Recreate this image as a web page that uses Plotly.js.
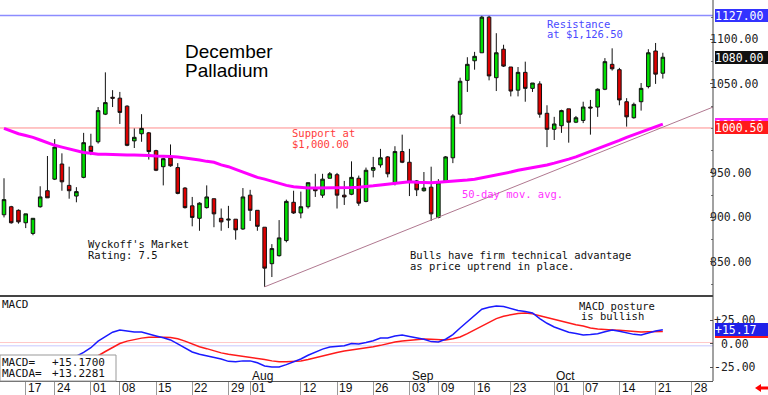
<!DOCTYPE html>
<html><head><meta charset="utf-8">
<script src="https://cdn.plot.ly/plotly-3.0.1.min.js"></script>
<style>html,body{margin:0;padding:0;background:#fff;}#chart{width:768px;height:395px;}</style>
</head><body><div id="chart"></div>
<script>
// ---- data (daily candles, Dec palladium, mid-June to Oct 22) ----
const openP = [903,912,908,894,882,912,930,943,960,936,
  924,945,980,985,1016,1035,1034,1025,986,994,
  995,975,957,967,956,933,913,899,911,921,
  899,897,898,887,925,908,889,848,857,874,
  917,905,912,932,925,944,948,925,926,944,
  918,953,959,968,939,974,962,941,930,934,
  900,940,967,1016,1054,1076,1085,1125,1057,1089,
  1069,1043,1063,1045,1050,1017,999,1003,1022,1007,
  1009,1024,1024,1044,1072,1066,1030,1012,1030,1047,
  1087,1062];
const highP = [944,913,909,904,899,935,969,988,972,957,
  934,995,994,1024,1063,1043,1041,1026,1000,1016,
  996,976,967,982,961,934,923,917,936,921,
  910,913,898,933,931,908,889,870,897,920,
  930,929,939,949,949,951,950,941,963,947,
  956,968,977,969,980,993,977,942,951,957,
  943,969,1016,1057,1080,1086,1126.5,1126.5,1107,1094,
  1069,1069,1075,1051,1053,1026,1013,1021,1022,1014,
  1030,1032,1045,1079,1090,1068,1034,1029,1051,1089,
  1096,1085];
const lowP = [900,893,893,888,880,911,922,942,930,921,
  917,944,970,983,1015,1024,1005,980,978,985,
  965,952,936,957,926,910,890,885,910,889,
  885,888,875,886,896,885,822,833,856,872,
  904,899,910,923,922,944,910,914,925,913,
  917,945,956,945,936,961,924,924,929,896,
  899,939,961,1005,1041,1066,1085,1054,1042,1069,
  1036,1036,1030,1041,1012,979,987,995,984,1006,
  1006,993,1013,1043,1065,1026,1002,1011,1020,1045,
  1050,1056];
const closeP = [920,894,895,904,899,923,922,979,940,930,
  929,984,974,1020,1029,1034,1018,981,990,1000,
  974,953,966,958,927,911,900,916,923,904,
  895,898,886,923,908,890,843,865,877,918,
  905,912,939,930,943,949,925,923,945,916,
  953,956,967,949,974,962,940,931,933,904,
  939,968,1014,1053,1072,1081,1125,1059,1085,1070,
  1042,1063,1045,1051,1016,999,1005,1020,1007,1012,
  1024,1023,1044,1075,1067,1032,1013,1027,1045,1085,
  1061,1080];
const ma50 = [1000,997,994,992,990,987,984,981,979,977,
  975,973,972,971,971,970.5,970,970,970,970,
  969.5,969,969,968.5,968,967,966,964.5,963,962,
  959,957,954,951,948,945,943,940.5,938,936,
  934.5,933.5,933,933,933,933,933,933,933.5,934,
  934.5,935.5,936.5,937.5,938.5,939.5,940,939.5,939,939,
  939.5,940,940.5,941,942,943,944.5,946,948,949.5,
  951,953,954.5,955.5,957,959,961,963,965.5,968,
  971,974,977.5,980.5,983.5,986.5,990,993,996,999,
  1002,1004.8];
const macd = [-28,-27,-26,-26,-26,-24,-22,-18,-16,-15,
  -13,-9,-4,3,8,12.5,14.9,13.5,12.8,12.8,
  11,8.5,6.5,4.3,0,-4.5,-8.5,-11,-12.5,-13.8,
  -16,-18.5,-19,-18,-18,-20,-23.4,-24.5,-24.5,-22,
  -19,-16,-12,-8.5,-5.5,-3.2,-2.5,-2,0.5,0,
  1.5,3.5,6.4,6.4,8.5,9.6,8,6.5,5,2.5,
  2,5,10,17,23.4,30,37,39,40.4,39.8,
  37.5,35.5,34.5,33,27,22,18,15,12.5,11,
  9.6,10,10.8,13,14.9,13.5,11.7,10.2,9.6,12,
  13.8,15.17];
const macdA = [-22,-22.5,-23,-23.5,-24,-24,-23.5,-23,-22,-20.5,
  -18.5,-16.5,-14.5,-12.5,-8,-4,0.5,3,5,6.2,
  7,7.4,7.2,6.8,5.5,3,0,-3,-5,-7.5,
  -9.5,-11,-12,-13,-13.8,-15,-16.5,-18,-19,-19,
  -18.8,-18,-16.5,-14.5,-12.5,-10.5,-9,-7.5,-6.5,-5.5,
  -4.3,-3,-1.5,0.5,2,3.2,4,4.8,5.3,5,
  4.5,4.3,5.5,7.4,11,15,19.5,23.5,27,29.5,
  31,32.5,33,32,30,28,26,24,22.5,20.5,
  19,17,16,15.2,14.9,14.5,13.8,13.2,12.8,12.9,
  13,13.2281];
const tickIdx  = [3,7,12,16,21,26,31,34,41,46,51,56,60,65,70,76,80,85,90,95];
const tickText = ['17','24','01','08','15','22','29','01','12','19','26','03','09','16','23','01','07','14','21','28'];
const monthIdx  = [34,56,76];
const monthText = ['Aug','Sep','Oct'];
const trendX = [36, 97.93];
const trendY = [822, 1024];
const resistance = 1127;
const support = 1000.5;
const priceTicks = [850,900,950,1050,1100];
const macdTicks = [25,0,-25];

// ---- layout helpers (pixel geometry) ----
const PW = 713, PH = 381;
const px = x => x / PW;
const py = y => (PH - y) / PH;
const MONO = 'DejaVu Sans Mono';
const SANS = 'Liberation Sans, Arial, sans-serif';
function txt(text, x, capTop, size, color, family, k) {
  return {xref:'paper', yref:'paper', x:px(x), y:py(capTop - (k||0.2)*size),
    xanchor:'left', yanchor:'top', text:text, showarrow:false,
    font:{size:size, color:color, family:family}, borderpad:0, borderwidth:0};
}
function valBox(v, yref, txtv, bg) {
  return {xref:'paper', yref:yref, x:1, y:v, xanchor:'left', yanchor:'middle', xshift:2,
    text:txtv, showarrow:false, bgcolor:bg, width:53, height:13, align:'left',
    font:{size:11.5, color:'#fff', family:MONO}, borderpad:0, borderwidth:0};
}
const idx = closeP.map((_, i) => i);
const nb = '\u00a0';

const traces = [
  {type:'candlestick', x:idx, open:openP, high:highP, low:lowP, close:closeP,
   xaxis:'x', yaxis:'y', whiskerwidth:0, hoverinfo:'skip',
   increasing:{line:{color:'#111', width:1}, fillcolor:'#00dd00'},
   decreasing:{line:{color:'#111', width:1}, fillcolor:'#dd0000'}},
  {type:'scatter', mode:'lines', x:idx, y:ma50, xaxis:'x', yaxis:'y',
   line:{color:'#ff00ff', width:3}, hoverinfo:'skip'},
  {type:'scatter', mode:'lines', x:trendX, y:trendY, xaxis:'x', yaxis:'y',
   line:{color:'#b07890', width:1}, hoverinfo:'skip'},
  {type:'scatter', mode:'lines', x:idx, y:macdA, xaxis:'x', yaxis:'y2',
   line:{color:'#ff1a1a', width:1.5}, hoverinfo:'skip'},
  {type:'scatter', mode:'lines', x:idx, y:macd, xaxis:'x', yaxis:'y2',
   line:{color:'#1a1aff', width:1.5}, hoverinfo:'skip'}
];

const shapes = [
  {type:'line', xref:'paper', yref:'y', x0:0, x1:1, y0:resistance, y1:resistance, line:{color:'#8c8cff', width:1.5}, layer:'below'},
  {type:'line', xref:'paper', yref:'y', x0:0, x1:1, y0:support, y1:support, line:{color:'#ff8c8c', width:1}, layer:'below'},
  {type:'line', xref:'paper', yref:'y2', x0:0, x1:1, y0:1.5, y1:1.5, line:{color:'#ffc8c8', width:1}, layer:'below'},
  {type:'line', xref:'paper', yref:'y2', x0:0, x1:1, y0:-2, y1:-2, line:{color:'#c8c8ff', width:1}, layer:'below'},
  {type:'rect', xref:'paper', yref:'paper', x0:0, x1:px(116), y0:0, y1:py(355), fillcolor:'#fff', line:{color:'#999', width:1}, layer:'above'},
  {type:'line', xref:'paper', yref:'paper', x0:0, x1:1, y0:py(296), y1:py(296), line:{color:'#444', width:2}},
  {type:'line', xref:'paper', yref:'paper', x0:1, x1:1, y0:0, y1:1, line:{color:'#444', width:1}},
  {type:'path', xref:'paper', yref:'paper', fillcolor:'#ff0000', line:{width:0},
   path:'M'+px(755)+','+py(388)+' L'+px(761)+','+py(384)+' L'+px(761)+','+py(386.5)+' L'+px(768)+','+py(386.5)+
        ' L'+px(768)+','+py(389.5)+' L'+px(761)+','+py(389.5)+' L'+px(761)+','+py(392)+' Z'}
];

const ann = [
  txt('December', 185, 45, 19, '#000', SANS, 0.19),
  txt('Palladium', 185, 64, 19, '#000', SANS, 0.19),
  txt('Resistance', 546.7, 20, 10.5, '#4a4aff', MONO),
  txt('at $1,126.50', 546.7, 30, 10.5, '#4a4aff', MONO),
  txt('Support at', 291.7, 129.3, 10.5, '#ff3c3c', MONO),
  txt('$1,000.00', 291.7, 140, 10.5, '#ff3c3c', MONO),
  txt('50-day mov. avg.', 461.7, 190, 10.5, '#ff33ff', MONO),
  txt("Wyckoff's Market", 88.3, 240, 10.5, '#111', MONO),
  txt('Rating: 7.5', 88.3, 250.7, 10.5, '#111', MONO),
  txt('Bulls have firm technical advantage', 410, 250.7, 10.5, '#111', MONO),
  txt('as price uptrend in place.', 410, 261.7, 10.5, '#111', MONO),
  txt('MACD posture', 579.3, 301.7, 10.5, '#111', MONO),
  txt('is bullish', 581, 311.7, 10.5, '#111', MONO),
  txt('MACD', 1.7, 300, 11, '#111', MONO),
  txt('MACD='+nb+nb, 1.7, 357.7, 11, '#111', MONO),
  txt('MACDA=', 1.7, 369.5, 11, '#111', MONO),
  txt('+' + macd[macd.length-1].toFixed(4), 52, 357.7, 11, '#111', MONO),
  txt('+' + macdA[macdA.length-1].toFixed(4), 52, 369.5, 11, '#111', MONO),
  valBox(ma50[ma50.length-1], 'y', ma50[ma50.length-1].toFixed(2), '#ff22ff'),
  valBox(support, 'y', support.toFixed(2), '#ff1a1a'),
  valBox(resistance, 'y', resistance.toFixed(2), '#3333ff'),
  valBox(closeP[closeP.length-1], 'y', closeP[closeP.length-1].toFixed(2), '#111'),
  valBox(macdA[macdA.length-1], 'y2', '+' + macdA[macdA.length-1].toFixed(2), '#ff1a1a'),
  valBox(macd[macd.length-1], 'y2', '+' + macd[macd.length-1].toFixed(2), '#2020e8')
];
const x0px = i => 4 + 7.242 * i;
tickIdx.forEach((t, k) => ann.push(txt(tickText[k], x0px(t) + 2, 383.3, 12, '#111', SANS, 0.19)));
monthIdx.forEach((t, k) => ann.push(txt(monthText[k], x0px(t) + 2, 371, 12, '#111', SANS, 0.19)));

const layout = {
  width:768, height:395, paper_bgcolor:'#fff', plot_bgcolor:'#fff',
  margin:{l:0, r:55, t:0, b:14, autoexpand:false}, showlegend:false,
  xaxis:{range:[-0.552, 97.93], anchor:'y2', tickvals:tickIdx, ticks:'outside', ticklen:14,
    tickcolor:'#999', tickwidth:1, showticklabels:false, showgrid:false, zeroline:false,
    showline:true, linecolor:'#555', linewidth:1, rangeslider:{visible:false}, fixedrange:true},
  yaxis:{domain:[py(296), 1], range:[811.7, 1144.3], side:'right', anchor:'x',
    tickvals:priceTicks, ticktext:priceTicks.map(v => v.toFixed(2)), ticks:'inside', ticklen:3,
    tickcolor:'#555', showgrid:false, zeroline:false, showline:false, ticklabelstandoff:-4,
    minor:{dtick:25, ticks:'inside', ticklen:2, tickcolor:'#777'},
    tickfont:{family:MONO, size:11.5, color:'#222'}, fixedrange:true},
  yaxis2:{domain:[0, py(296)], range:[-39.4, 51], side:'right', anchor:'x',
    tickvals:macdTicks, ticktext:macdTicks.map(v => (v > 0 ? '+' : (v < 0 ? '-' : nb)) + Math.abs(v).toFixed(2)),
    ticks:'inside', ticklen:3, tickcolor:'#555', showgrid:false, zeroline:false, showline:false,
    tickfont:{family:MONO, size:11.5, color:'#222'}, fixedrange:true},
  shapes:shapes, annotations:ann
};
Plotly.newPlot('chart', traces, layout, {staticPlot:true, displayModeBar:false});
</script></body></html>
